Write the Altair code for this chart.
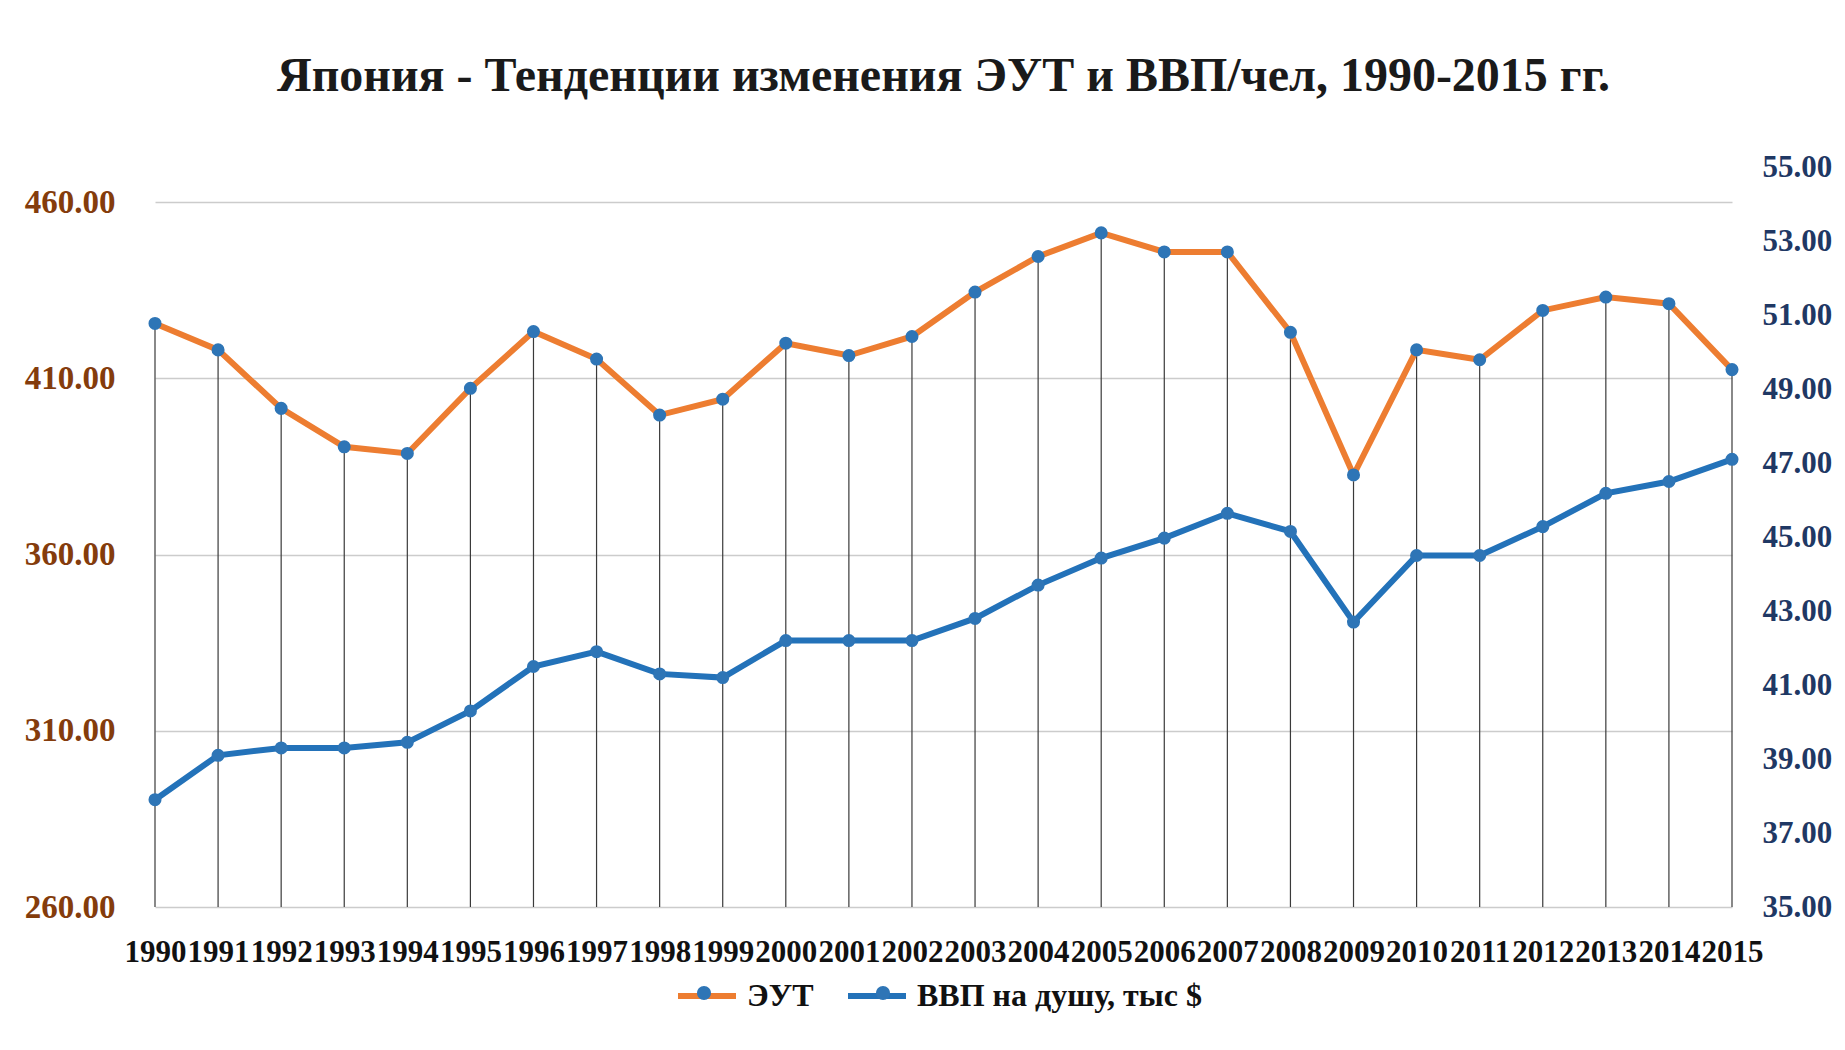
import altair as alt
import pandas as pd

years = [str(y) for y in range(1990, 2016)]
eut = [425.6, 418.1, 401.5, 390.6, 388.7, 407.2, 423.3, 415.5, 399.6, 404.1,
       420.0, 416.5, 421.9, 434.5, 444.6, 451.3, 445.9, 445.9, 423.1, 382.6,
       418.1, 415.3, 429.3, 433.1, 431.2, 412.5]
gdp = [37.9, 39.1, 39.3, 39.3, 39.45, 40.3, 41.5, 41.9, 41.3, 41.2,
       42.2, 42.2, 42.2, 42.8, 43.7, 44.43, 44.97, 45.64, 45.15, 42.7,
       44.5, 44.5, 45.28, 46.18, 46.5, 47.1]
series_names = ["ЭУТ", "ВВП на душу, тыс $"]
marker_names = [s + "\u200b" for s in series_names]
left_ticks = [260, 310, 360, 410, 460]
right_ticks = [35, 37, 39, 41, 43, 45, 47, 49, 51, 53, 55]
title_text = "Япония - Тенденции  изменения ЭУТ и ВВП/чел, 1990-2015  гг."

ORANGE = "#ED7D31"
BLUE = "#2372B9"
MARK_BLUE = "#2E75B6"
FONT = "Liberation Serif"

df_a = pd.DataFrame({"year": years, "val": eut, "series": series_names[0],
                     "marker": marker_names[0]})
df_b = pd.DataFrame({"year": years, "val": gdp, "series": series_names[1],
                     "marker": marker_names[1]})

x_enc = alt.X("year:O", scale=alt.Scale(type="point", padding=0),
              axis=alt.Axis(title=None, labelAngle=0, labelOverlap=False,
                            labelFont=FONT, labelFontSize=31, labelFontWeight="bold",
                            labelColor="#111111", labelPadding=30,
                            ticks=False, domain=False, grid=False))

color_scale = alt.Scale(domain=series_names, range=[ORANGE, BLUE])
fill_scale = alt.Scale(domain=marker_names, range=[MARK_BLUE, MARK_BLUE])

LEG_X, LEG_Y = 520, 797
color_legend = alt.Legend(title=None, orient="none", direction="horizontal",
                          legendX=LEG_X, legendY=LEG_Y,
                          symbolType="stroke", symbolSize=3364, symbolStrokeWidth=6,
                          labelFont=FONT, labelFontSize=32, labelFontWeight="bold",
                          labelColor="#111111", labelLimit=500,
                          columnPadding=22, labelOffset=8)
fill_legend = alt.Legend(title=None, orient="none", direction="horizontal",
                         legendX=LEG_X, legendY=LEG_Y,
                         symbolType="M-0.24,0A0.24,0.24 0 1,0 0.24,0A0.24,0.24 0 1,0 -0.24,0Z",
                         symbolSize=3364, symbolStrokeWidth=0,
                         labelExpr="''", labelFontSize=32,
                         columnPadding=113, labelOffset=8)

y_left = alt.Y("val:Q", scale=alt.Scale(domain=[260, 470], nice=False, zero=False),
               axis=alt.Axis(title=None, values=left_ticks, format=".2f",
                             labelFont=FONT, labelFontSize=33, labelFontWeight="bold",
                             labelColor="#843C0C", labelPadding=40,
                             ticks=False, domain=False, grid=True,
                             gridColor="#CCCCCC", gridWidth=1.5))
y_right = alt.Y("val:Q", scale=alt.Scale(domain=[35, 55], nice=False, zero=False),
                axis=alt.Axis(title=None, orient="right", values=right_ticks, format=".2f",
                              labelFont=FONT, labelFontSize=31, labelFontWeight="bold",
                              labelColor="#1F3864", labelPadding=30,
                              ticks=False, domain=False, grid=False))

base_a = alt.Chart(df_a).encode(x=x_enc, y=y_left)
rules = base_a.mark_rule(color="#3A3A3A", strokeWidth=1.2).encode(y2=alt.datum(260))
line_a = base_a.mark_line(strokeWidth=6).encode(
    color=alt.Color("series:N", scale=color_scale, legend=color_legend))
pts_a = base_a.mark_circle(size=170, opacity=1).encode(
    fill=alt.Fill("marker:N", scale=fill_scale, legend=fill_legend))
layer_a = alt.layer(rules, line_a, pts_a)

base_b = alt.Chart(df_b).encode(x=x_enc, y=y_right)
line_b = base_b.mark_line(strokeWidth=6).encode(
    color=alt.Color("series:N", scale=color_scale, legend=color_legend))
pts_b = base_b.mark_circle(size=170, opacity=1).encode(
    fill=alt.Fill("marker:N", scale=fill_scale, legend=fill_legend))
layer_b = alt.layer(line_b, pts_b)

chart = alt.layer(layer_a, layer_b).resolve_scale(y="independent").properties(
    width=1577, height=740,
    autosize=alt.AutoSizeParams(type="none"),
    padding={"left": 147, "top": 159, "right": 105, "bottom": 120},
    title=alt.TitleParams(title_text, font=FONT, fontSize=48, fontWeight="bold",
                          color="#1A1A1A", anchor="middle", frame="group",
                          baseline="alphabetic", offset=12),
    background="white",
).configure_view(stroke=None)

chart.save("out.html", embed_options={"renderer": "svg", "actions": False})
